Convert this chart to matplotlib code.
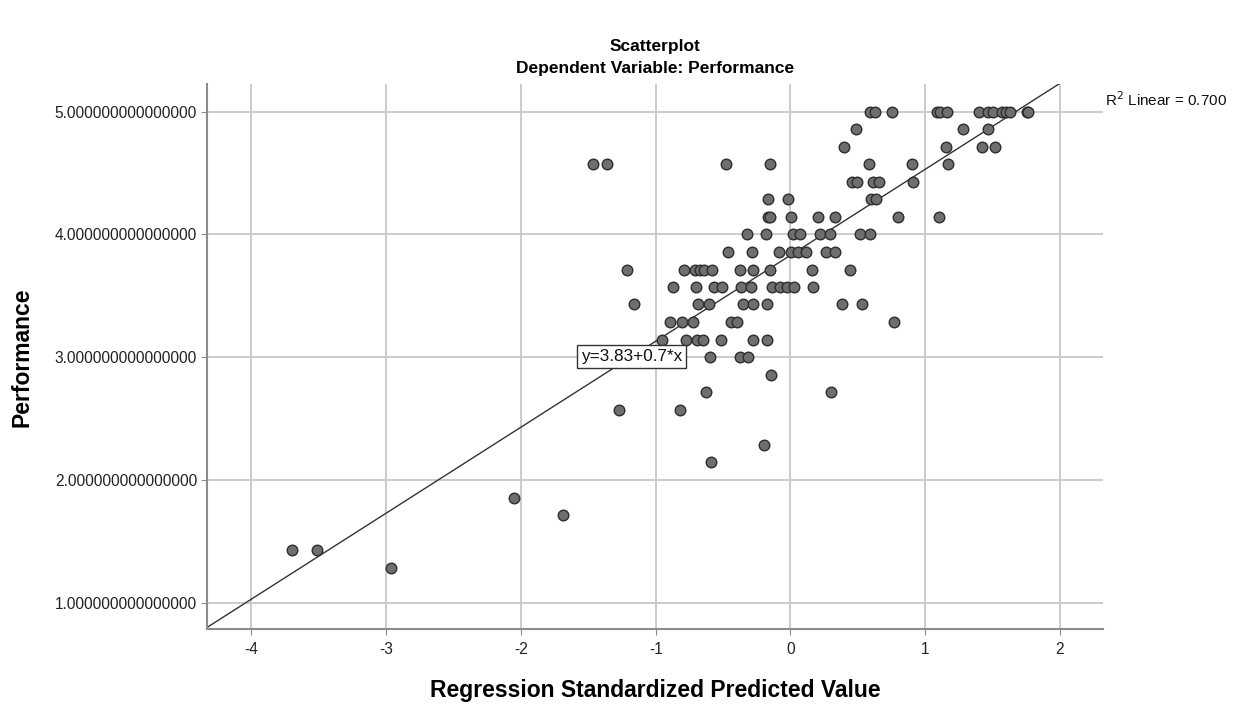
import numpy as np
import matplotlib
matplotlib.use("Agg")
import matplotlib.pyplot as plt

plt.rcParams['font.family'] = ['Liberation Sans', 'DejaVu Sans']

# Regression standardized predicted values (x) and Performance (y)
pred_values = [
    # Performance = 5.000
    0.590, 0.627, 0.751, 1.085, 1.109, 1.159, 1.399, 1.468, 1.505, 1.567, 1.599, 1.629, 1.753, 1.760,
    # 4.857
    0.484, 1.278, 1.468,
    # 4.714
    0.399, 1.154, 1.419, 1.518,
    # 4.571
    -1.463, -1.364, -0.481, -0.152, 0.585, 0.904, 1.167,
    # 4.429
    0.459, 0.496, 0.614, 0.659, 0.911,
    # 4.286
    -0.169, -0.021, 0.595, 0.635,
    # 4.143
    -0.169, -0.152, 0.001, 0.206, 0.330, 0.800, 1.104,
    # 4.000
    -0.325, -0.184, 0.016, 0.071, 0.219, 0.293, 0.516, 0.590,
    # 3.857
    -0.460, -0.289, -0.082, 0.004, 0.058, 0.115, 0.263, 0.330,
    # 3.714
    -1.210, -0.787, -0.709, -0.672, -0.638, -0.585, -0.375, -0.281, -0.152, 0.162, 0.442,
    # 3.571
    -0.874, -0.701, -0.568, -0.506, -0.367, -0.295, -0.140, -0.078, -0.028, 0.028, 0.169,
    # 3.429
    -1.159, -0.689, -0.605, -0.355, -0.281, -0.172, 0.384, 0.528,
    # 3.286
    -0.894, -0.807, -0.726, -0.444, -0.399, 0.770,
    # 3.143
    -0.956, -0.778, -0.696, -0.652, -0.518, -0.276, -0.177,
    # 3.000
    -0.597, -0.375, -0.313,
    # 2.857
    -0.145,
    # 2.714
    -0.629, 0.301,
    # 2.571
    -1.273, -0.820,
    # 2.286
    -0.194,
    # 2.143
    -0.590,
    # 1.857
    -2.050,
    # 1.714
    -1.688,
    # 1.429
    -3.697, -3.516,
    # 1.286
    -2.963,
]

performance = (
    [5.000] * 14 + [4.857] * 3 + [4.714] * 4 + [4.571] * 7 + [4.429] * 5 +
    [4.286] * 4 + [4.143] * 7 + [4.000] * 8 + [3.857] * 8 + [3.714] * 11 +
    [3.571] * 11 + [3.429] * 8 + [3.286] * 6 + [3.143] * 7 + [3.000] * 3 +
    [2.857] * 1 + [2.714] * 2 + [2.571] * 2 + [2.286] * 1 + [2.143] * 1 +
    [1.857] * 1 + [1.714] * 1 + [1.429] * 2 + [1.286] * 1
)

fit_intercept = 3.83
fit_slope = 0.7
r_squared = 0.700

x_ticks = [-4, -3, -2, -1, 0, 1, 2]
y_ticks = [1, 2, 3, 4, 5]
y_tick_labels = ["1.000000000000000", "2.000000000000000", "3.000000000000000",
                 "4.000000000000000", "5.000000000000000"]

fig = plt.figure(figsize=(12.38, 7.05), dpi=100)
ax = fig.add_axes([0.167, 0.1074, 0.891 - 0.167, 0.8809 - 0.1074])

xmin, xmax = -4.332, 2.32
ymin, ymax = 0.784, 5.225
ax.set_xlim(xmin, xmax)
ax.set_ylim(ymin, ymax)

ax.set_xticks(x_ticks)
ax.set_xticklabels([str(t) for t in x_ticks])
ax.set_yticks(y_ticks)
ax.set_yticklabels(y_tick_labels)
ax.grid(True, color='#c8c8c8', linewidth=1.3)
ax.set_axisbelow(True)

for s in ['top', 'right']:
    ax.spines[s].set_visible(False)
for s in ['left', 'bottom']:
    ax.spines[s].set_color('#8c8c8c')
    ax.spines[s].set_linewidth(1.5)

ax.tick_params(axis='both', length=4, color='#8c8c8c', labelsize=11.2, labelcolor='#222222', pad=3)
ax.tick_params(axis='x', pad=5)

# regression line
lx = np.array([xmin, xmax])
ly = fit_intercept + fit_slope * lx
ax.plot(lx, ly, color='#333333', linewidth=1.0, zorder=2, clip_on=True)

ax.scatter(pred_values, performance, s=58, facecolor='#6e6e6e', edgecolor='#2e2e2e',
           linewidth=1.0, zorder=3)

# equation label on line
lbl_x = -1.18
ax.text(lbl_x, fit_intercept + fit_slope * lbl_x, "y=3.83+0.7*x", fontsize=12.3,
        ha='center', va='center', color='#111111', zorder=5,
        bbox=dict(boxstyle='square,pad=0.25', facecolor='white', edgecolor='#333333', linewidth=1.0))

fig.text(1105 / 1238, 1 - 100 / 705, r"R$^2$ Linear = 0.700", fontsize=11, ha='left', va='center',
         color='#111111')

fig.text(655 / 1238, 1 - 47 / 705, "Scatterplot", fontsize=12.5, fontweight='bold', ha='center', va='center')
fig.text(655 / 1238, 1 - 68 / 705, "Dependent Variable: Performance", fontsize=12.5, fontweight='bold',
         ha='center', va='center')

fig.text(655 / 1238, 1 - 691 / 705, "Regression Standardized Predicted Value", fontsize=16.5,
         fontweight='bold', ha='center', va='center')
fig.text(22 / 1238, 1 - 357 / 705, "Performance", fontsize=16.5, fontweight='bold', rotation=90,
         ha='center', va='center')

fig.savefig("out.png", dpi=100)
